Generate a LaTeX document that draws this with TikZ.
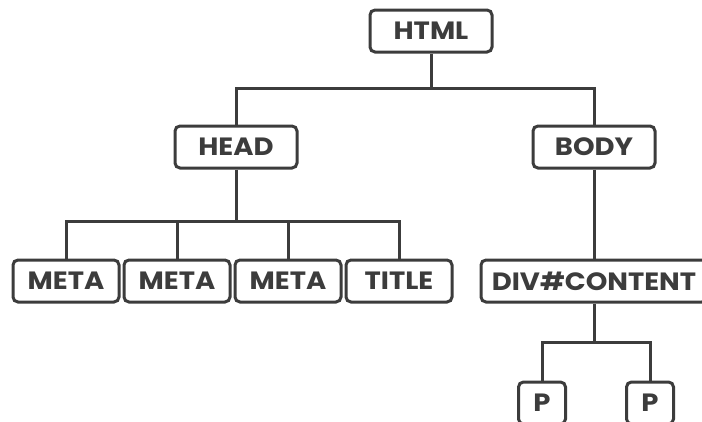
\documentclass[tikz,border=0pt]{standalone}
\usepackage{fontspec}
\usepackage{xcolor}
\newfontfamily\tagfont{Poppins}[FakeStretch=1.1]
\definecolor{inkgray}{HTML}{3C3C3C}

\begin{document}
\begin{tikzpicture}[x=1pt,y=-1pt,
  tag/.style={draw=inkgray,line width=3pt,rounded corners=5pt,fill=white,
    minimum width=122pt,minimum height=42pt,inner sep=0pt,text=inkgray,
    font=\tagfont\bfseries\fontsize{25}{25}\selectfont},
  leaf/.style={tag,minimum width=106pt},
  wire/.style={draw=inkgray,line width=3pt}]
\fill[white] (0,0) rectangle (702,421);
\clip (0,0) rectangle (702,421);

\node[tag] (html) at (431,31) {HTML};
\node[tag] (head) at (236,147) {HEAD};
\node[tag] (body) at (594,147) {BODY};

\node[leaf] (meta1) at (66,281) {META};
\node[leaf] (meta2) at (177,281) {META};
\node[leaf] (meta3) at (288,281) {META};
\node[leaf] (title) at (399,281) {TITLE};
\node[tag,minimum width=226pt] (div) at (594,281) {DIV\#CONTENT};

\node[leaf,minimum width=47pt] (p1) at (542,403) {P};
\node[leaf,minimum width=47pt] (p2) at (650,403) {P};

\coordinate (rootbar) at (431,88);
\coordinate (headbar) at (236,221);
\coordinate (divbar) at (594,342);

\draw[wire] (html.south) -- (rootbar);
\draw[wire] (head.north) |- (rootbar) -| (body.north);
\draw[wire] (head.south) -- (headbar);
\draw[wire] (meta1.north) |- (headbar) -| (title.north);
\draw[wire] (meta2.north) -- (meta2.north |- headbar);
\draw[wire] (meta3.north) -- (meta3.north |- headbar);
\draw[wire] (body.south) -- (div.north);
\draw[wire] (div.south) -- (divbar);
\draw[wire] (p1.north) |- (divbar) -| (p2.north);
\end{tikzpicture}
\end{document}
